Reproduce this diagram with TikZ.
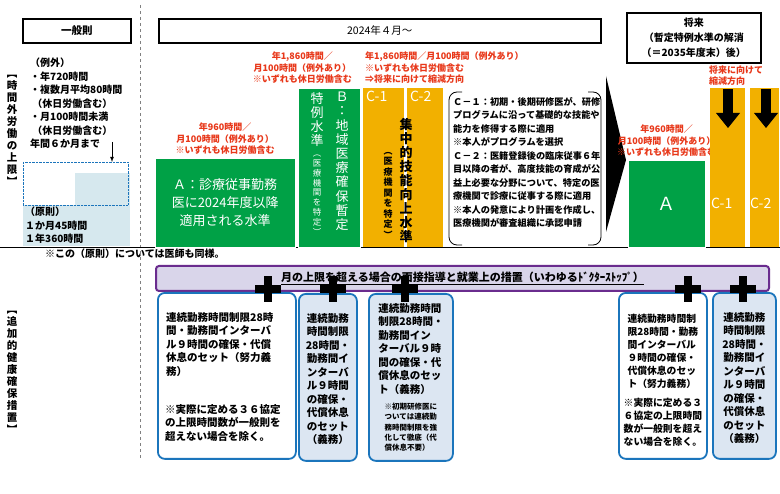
\documentclass[tikz,border=0pt]{standalone}
\usepackage{fontspec}
\setmainfont{Noto Sans CJK JP}
\usepackage{xcolor}
\definecolor{grn}{RGB}{0,161,70}
\definecolor{org}{RGB}{242,176,0}
\definecolor{rd}{RGB}{232,56,26}
\definecolor{stepblue}{RGB}{214,232,238}
\definecolor{lb}{RGB}{220,230,242}
\definecolor{bb}{RGB}{27,117,188}
\definecolor{pur}{RGB}{106,44,142}
\definecolor{lav}{RGB}{217,213,234}
\tikzset{
 hdr/.style={draw=black,line width=1.6pt,anchor=north west,inner sep=0pt,font=\bfseries\fontsize{10.5}{12}\selectfont},
 redt/.style={text=rd,font=\bfseries\fontsize{9}{11.5}\selectfont,align=center,inner sep=0pt},
 gbox/.style={fill=grn,draw=white,anchor=north west,inner sep=0pt},
 obox/.style={fill=org,anchor=north west,inner sep=0pt},
 bbox/.style={draw=bb,line width=1.8pt,rounded corners=7pt,anchor=north west,inner sep=0pt},
 btxt/.style={font=\bfseries\fontsize{10.5}{13.5}\selectfont,align=center,inner sep=0pt,anchor=north},
 small/.style={font=\bfseries\fontsize{7.5}{10.2}\selectfont,align=left,inner sep=0pt,anchor=north},
 blk/.style={font=\bfseries\fontsize{10}{13.5}\selectfont,inner sep=0pt},
 ct/.style={text=white,font=\fontsize{14}{16}\selectfont,inner sep=0pt,anchor=north west}
}
\begin{document}
\begin{tikzpicture}[x=1pt,y=-1pt]
\useasboundingbox (0,0) rectangle (780,494);
\fill[white] (0,0) rectangle (780,494);
% dashed divider
\draw[gray,dashed] (140,5) -- (140,458);
% headers
\node[hdr,minimum width=108pt,minimum height=24pt] (h1) at (22,18) {一般則};
\node[hdr,minimum width=442pt,minimum height=24pt,font=\fontsize{10.5}{12}\selectfont] (h2) at (158,18) {2024年４月～};
\node[hdr,minimum width=134pt,minimum height=50pt,align=center,font=\bfseries\fontsize{10}{15}\selectfont] (h3) at (626,12) {将来\\（暫定特例水準の解消\\（＝2035年度末）後）};
% left labels
\node[blk,align=center,font=\bfseries\fontsize{10.5}{12}\selectfont] (l1) at (12,130) {︻\\時\\間\\外\\労\\働\\の\\上\\限\\︼};
\node[blk,align=center,font=\bfseries\fontsize{10.5}{12}\selectfont] (l2) at (12,372) {︻\\追\\加\\的\\健\\康\\確\\保\\措\\置\\︼};
% general rule step
\fill[stepblue] (23,205) rectangle (130,246);
\fill[stepblue] (75,173) rectangle (130,205);
\draw[bb,densely dotted] (23,162) rectangle (128,205);
\node[blk,align=left,anchor=north west] (exc) at (30,58) {（例外）\\・年720時間\\・複数月平均80時間\\\ （休日労働含む）\\・月100時間未満\\\ （休日労働含む）\\年間６か月まで};
\coordinate (ar) at (112,162);
\draw[-latex,thick] (112,142) -- (ar);
\node[blk,align=left,anchor=north west] (gen) at (25,207) {（原則）\\１か月45時間\\１年360時間};
\draw[black] (0,247) -- (780,247);
\node[blk,anchor=north west] (note) at (45,249) {※この（原則）については医師も同様。};
% A
\node[gbox,minimum width=140pt,minimum height=89pt,text=white,align=center,font=\fontsize{13}{18}\selectfont] (A) at (155,158) {Ａ：診療従事勤務\\医に2024年度以降\\適用される水準};
\node[redt,anchor=south] (Ar) at (A.north) [yshift=3pt] {年960時間／\\月100時間（例外あり）\\※いずれも休日労働含む};
% B
\node[gbox,minimum width=62pt,minimum height=159pt] (B) at (298,88) {};
\node[text=white,align=center,inner sep=0pt,anchor=north,font=\fontsize{13}{14.2}\selectfont] (Bt1) at (342,92) {Ｂ\\：\\地\\域\\医\\療\\確\\保\\暫\\定};
\node[text=white,align=center,inner sep=0pt,anchor=north,font=\fontsize{13}{14}\selectfont] (Bt2) at (317,92) {特\\例\\水\\準};
\node[text=white,align=center,inner sep=0pt,anchor=north,font=\fontsize{8.5}{9.8}\selectfont] (Bt3) at (317,155) {︵\\医\\療\\機\\関\\を\\特\\定\\︶};
\node[redt,anchor=south east] (Br) at (352,84) {年1,860時間／\\月100時間（例外あり）\\※いずれも休日労働含む};
% C
\node[obox,minimum width=41pt,minimum height=159pt] (C1) at (363,88) {};
\node[obox,minimum width=36pt,minimum height=159pt] (C2) at (407,88) {};
\node[ct] (C1t) at (366,91) {C-1};
\node[ct] (C2t) at (410,91) {C-2};
\node[redt,anchor=south west,align=left] (Cr) at (365,84) {年1,860時間／月100時間（例外あり）\\※いずれも休日労働含む\\⇒将来に向けて縮減方向};
\node[align=center,inner sep=0pt,anchor=north,font=\bfseries\fontsize{13}{14}\selectfont] (Cv) at (406,118) {集\\中\\的\\技\\能\\向\\上\\水\\準};
\node[align=center,inner sep=0pt,anchor=north,font=\bfseries\fontsize{9}{10.5}\selectfont] (Cv2) at (388,152) {︵\\医\\療\\機\\関\\を\\特\\定\\︶};
% explanation bracket box
\draw[thick,rounded corners=8pt] (462,92) -- (449,92) -- (449,245) -- (462,245);
\draw[thick,rounded corners=8pt] (588,92) -- (601,92) -- (601,245) -- (588,245);
\node[align=left,inner sep=0pt,anchor=north west,font=\bfseries\fontsize{9.2}{13.5}\selectfont] (exp) at (453,97) {Ｃ－１：初期・後期研修医が、研修\\プログラムに沿って基礎的な技能や\\能力を修得する際に適用\\※本人がプログラムを選択\\Ｃ－２：医籍登録後の臨床従事６年\\目以降の者が、高度技能の育成が公\\益上必要な分野について、特定の医\\療機関で診療に従事する際に適用\\※本人の発意により計画を作成し、\\医療機関が審査組織に承認申請};
% big arrow
\fill (606,76) -- (626,160) -- (606,232) -- cycle;
% future
\node[gbox,minimum width=77pt,minimum height=87pt,text=white,font=\fontsize{18}{20}\selectfont] (FA) at (628,160) {Ａ};
\node[redt,anchor=south] (FAr) at (FA.north) [yshift=3pt] {年960時間／\\月100時間（例外あり）\\※いずれも休日労働含む};
\node[obox,minimum width=35pt,minimum height=159pt] (F1) at (710,88) {};
\node[obox,minimum width=29pt,minimum height=159pt] (F2) at (750,88) {};
\node[ct] (F1t) at (711,198) {C-1};
\node[ct] (F2t) at (750,198) {C-2};
\node[redt,anchor=south west,align=left] (Fr) at (709,86) {将来に向けて\\縮減方向};
\fill (723,89) rectangle (733,113); \fill (716,113) -- (740,113) -- (728,128) -- cycle;
\fill (761,89) rectangle (771,113); \fill (754,113) -- (778,113) -- (766,128) -- cycle;
% purple bar
\node[draw=pur,fill=lav,line width=2pt,rounded corners=3pt,minimum width=613pt,minimum height=25pt,anchor=north west,inner sep=0pt,font=\bfseries\fontsize{11}{12}\selectfont] (P) at (155,265) {\underline{月の上限を超える場合の面接指導と就業上の措置（いわゆるﾄﾞｸﾀｰｽﾄｯﾌﾟ）}};
% blue boxes
\node[bbox,fill=white,minimum width=138pt,minimum height=166pt] (b1) at (157,292) {};
\node[bbox,fill=lb,minimum width=58pt,minimum height=167pt] (b2) at (298,293) {};
\node[bbox,fill=lb,minimum width=84pt,minimum height=167pt] (b3) at (368,293) {};
\node[bbox,fill=white,minimum width=88pt,minimum height=166pt] (b4) at (618,292) {};
\node[bbox,fill=lb,minimum width=63pt,minimum height=166pt] (b5) at (712,292) {};
\node[btxt,align=left,anchor=north west] (t1) at (166,312) {連続勤務時間制限28時\\間・勤務間インターバ\\ル９時間の確保・代償\\休息のセット（努力義\\務）};
\node[btxt,align=left,anchor=north west] (t1b) at (165,404) {※実際に定める３６協定\\の上限時間数が一般則を\\超えない場合を除く。};
\node[btxt] (t2) at ([yshift=-20pt]b2.north) {連続勤務\\時間制限\\28時間・\\勤務間イ\\ンターバ\\ル９時間\\の確保・\\代償休息\\のセット\\（義務）};
\node[btxt,align=left] (t3) at ([yshift=-10pt]b3.north) {連続勤務時間\\制限28時間・\\勤務間イン\\ターバル９時\\間の確保・代\\償休息のセッ\\ト（義務）};
\node[small] (t3b) at ([yshift=-110pt]b3.north) {※初期研修医に\\ついては連続勤\\務時間制限を強\\化して徹底（代\\償休息不要）};
\node[btxt,align=left,font=\bfseries\fontsize{9.8}{13}\selectfont] (t4) at ([yshift=-22pt]b4.north) {連続勤務時間制\\限28時間・勤務\\間インターバル\\９時間の確保・\\代償休息のセッ\\ト（努力義務）};
\node[btxt,align=left,font=\bfseries\fontsize{9.8}{13}\selectfont] (t4b) at ([yshift=-106pt]b4.north) {※実際に定める３\\６協定の上限時間\\数が一般則を超え\\ない場合を除く。};
\node[btxt] (t5) at ([yshift=-20pt]b5.north) {連続勤務\\時間制限\\28時間・\\勤務間イ\\ンターバ\\ル９時間\\の確保・\\代償休息\\のセット\\（義務）};
% plus signs
\foreach \px in {268,333,405,688,743}{
 \fill (\px-13,285) rectangle (\px+13,293);
 \fill (\px-4,276) rectangle (\px+4,302);
}
\end{tikzpicture}
\end{document}
